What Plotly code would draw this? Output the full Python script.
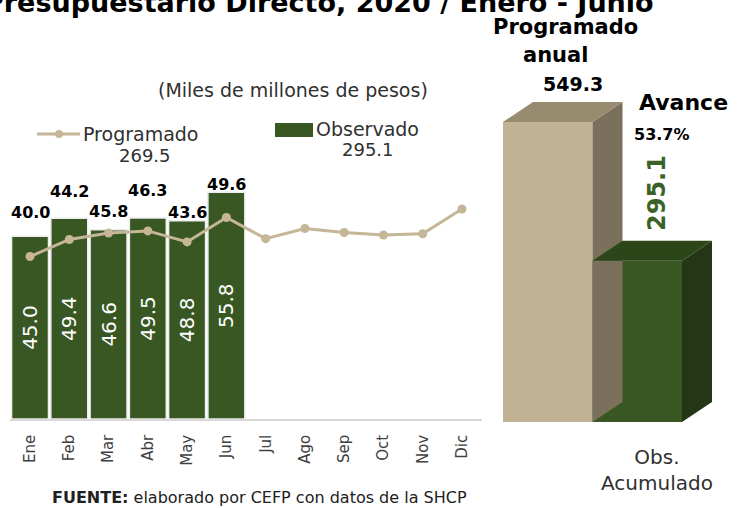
import plotly.graph_objects as go

# datos mensuales (miles de millones de pesos)
meses = ["Ene", "Feb", "Mar", "Abr", "May", "Jun", "Jul", "Ago", "Sep", "Oct", "Nov", "Dic"]
programado = [40.0, 44.2, 45.8, 46.3, 43.6, 49.6, 44.4, 46.9, 45.9, 45.3, 45.6, 51.7]
observado = [45.0, 49.4, 46.6, 49.5, 48.8, 55.8]

# acumulado anual
acum_categorias = ["Programado anual", "Obs. Acumulado"]
acum_valores = [549.3, 295.1]

# separacion (px) de las etiquetas del programado sobre cada barra
sep_etiquetas = [24, 27, 18, 27, 8, 8]

VERDE = "#385723"
BEIGE = "#C2B295"
LINEA = "#C4B696"
FUENTE = "DejaVu Sans"
W, H = 751, 508


def px(x):
    return x / W


def py(y):
    return 1 - y / H


total_prog = round(sum(programado[:len(observado)]), 1)
total_obs = round(sum(observado), 1)
avance = round(acum_valores[1] / acum_valores[0] * 100, 1)

fig = go.Figure()

# barras observadas
fig.add_trace(go.Bar(
    x=meses[:len(observado)], y=observado,
    marker=dict(color=VERDE, line=dict(color="#EDEDED", width=1.5)),
    text=[f"{v:.1f}" for v in observado],
    textposition="inside", insidetextanchor="middle", textangle=-90,
    textfont=dict(family=FUENTE, size=20, color="white"),
    hoverinfo="skip", showlegend=False,
))

# linea programado
fig.add_trace(go.Scatter(
    x=meses, y=programado, mode="lines+markers",
    line=dict(color=LINEA, width=3), marker=dict(color=LINEA, size=9),
    showlegend=False,
))

# etiquetas del programado sobre las barras
for i, v in enumerate(programado[:len(observado)]):
    fig.add_annotation(
        x=meses[i], y=observado[i], yshift=sep_etiquetas[i], yanchor="middle",
        xanchor="center", text=f"<b>{v:.1f}</b>", showarrow=False,
        font=dict(family=FUENTE, size=16, color="black"),
    )

# barras 3D del acumulado
dx = 30 / 89.5          # profundidad en unidades de categoria
dy = 20 / (300 / 549.3)  # profundidad en unidades de valor
caras = [(BEIGE, "#7B705B", "#978B70"), (VERDE, "#243616", "#2C4519")]
for i, v in enumerate(acum_valores):
    frente, lado, tapa = caras[i]
    fig.add_trace(go.Bar(
        x=[i], y=[v], width=1, xaxis="x2", yaxis="y2",
        marker=dict(color=frente, line=dict(width=0)),
        hoverinfo="skip", showlegend=False,
    ))
    fig.add_trace(go.Scatter(
        x=[i + 0.5, i + 0.5 + dx, i + 0.5 + dx, i + 0.5, i + 0.5],
        y=[0, dy, v + dy, v, 0], xaxis="x2", yaxis="y2",
        fill="toself", fillcolor=lado, mode="lines", line=dict(width=0),
        hoverinfo="skip", showlegend=False,
    ))
    fig.add_trace(go.Scatter(
        x=[i - 0.5, i - 0.5 + dx, i + 0.5 + dx, i + 0.5, i - 0.5],
        y=[v, v + dy, v + dy, v, v], xaxis="x2", yaxis="y2",
        fill="toself", fillcolor=tapa, mode="lines", line=dict(width=0),
        hoverinfo="skip", showlegend=False,
    ))

# leyenda manual
fig.add_shape(type="line", xref="paper", yref="paper",
              x0=px(37), x1=px(80), y0=py(134), y1=py(134),
              line=dict(color=LINEA, width=3))
fig.add_shape(type="circle", xref="paper", yref="paper",
              x0=px(55), x1=px(63), y0=py(130), y1=py(138),
              fillcolor=LINEA, line=dict(width=0))
fig.add_shape(type="rect", xref="paper", yref="paper",
              x0=px(275), x1=px(313), y0=py(137), y1=py(123),
              fillcolor=VERDE, line=dict(width=0))

textos = [
    (px(81), py(134), "left", "Programado", 19, "#303030"),
    (px(145), py(155), "center", f"{total_prog}", 18, "#303030"),
    (px(314), py(129), "left", "Observado", 19, "#303030"),
    (px(368), py(150), "center", f"{total_obs}", 18, "#303030"),
    (px(293), py(90), "center", "(Miles de millones de pesos)", 19, "#303030"),
    (px(565), py(27), "center", "<b>Programado</b>", 21, "black"),
    (px(555), py(55), "center", "<b>anual</b>", 21, "black"),
    (px(573), py(84), "center", f"<b>{acum_valores[0]}</b>", 19, "black"),
    (px(683), py(103), "center", "<b>Avance</b>", 22, "black"),
    (px(662), py(134), "center", f"<b>{avance}%</b>", 16, "black"),
    (px(657), py(470), "center", "Obs.<br>Acumulado", 20, "#303030"),
]
for x, y, anc, t, s, c in textos:
    fig.add_annotation(x=x, y=y, xref="paper", yref="paper", xanchor=anc,
                       yanchor="middle", text=t, showarrow=False,
                       font=dict(family=FUENTE, size=s, color=c))

fig.add_annotation(x=px(657), y=py(193), xref="paper", yref="paper",
                   xanchor="center", yanchor="middle",
                   text=f"<b>{acum_valores[1]}</b>", textangle=-90, showarrow=False,
                   font=dict(family=FUENTE, size=24, color="#3B6326"))

fig.add_annotation(x=px(50), y=py(497), xref="paper", yref="paper", xanchor="left",
                   yanchor="middle",
                   text="<b>FUENTE:</b> elaborado por CEFP con datos de la SHCP",
                   showarrow=False, font=dict(family=FUENTE, size=16, color="#202020"))

# titulo (cortado en la parte superior, como en el original)
fig.add_annotation(x=px(656), y=py(20), xref="paper", yref="paper",
                   xanchor="right", yanchor="bottom",
                   text="<b>Presupuestario Directo, 2020 / Enero - Junio</b>",
                   showarrow=False, font=dict(family=FUENTE, size=27, color="black"))

fig.update_layout(
    width=W, height=H,
    margin=dict(l=0, r=0, t=0, b=0),
    paper_bgcolor="white", plot_bgcolor="white",
    bargap=0.06,
    showlegend=False,
    xaxis=dict(domain=[px(10.4), px(481.6)], range=[-0.5, 11.5], type="category",
               tickangle=-90, showline=True, linecolor="#D9D9D9", linewidth=1.5,
               showgrid=False, ticks="", ticklabelstandoff=8, automargin=False,
               tickfont=dict(family=FUENTE, size=15, color="#404040"),
               fixedrange=True),
    yaxis=dict(domain=[py(419), py(170)], range=[0, 61.3], visible=False,
               fixedrange=True),
    xaxis2=dict(domain=[px(503), px(726.75)], range=[-0.5, 2.0], visible=False,
                anchor="y2", fixedrange=True),
    yaxis2=dict(domain=[py(422), py(94.3)], range=[0, 600], visible=False,
                anchor="x2", fixedrange=True),
)

# quitar el margen del body para que la figura empiece en (0, 0)
fig.write_html("out.html", config={"displayModeBar": False},
               post_script="document.body.style.margin='0';")
